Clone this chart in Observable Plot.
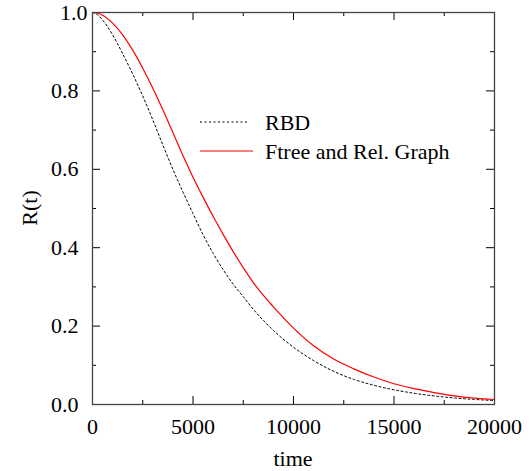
<!DOCTYPE html>
<html>
<head>
<meta charset="utf-8">
<script src="https://cdn.jsdelivr.net/npm/d3@7"></script>
<script src="https://cdn.jsdelivr.net/npm/@observablehq/plot@0.6"></script>
<style>
  html, body { margin: 0; padding: 0; background: #fff; }
  #chart svg { display: block; }
</style>
</head>
<body>
<div id="chart"></div>
<script>
// ---- data ----
const times = [0, 250, 500, 1000, 1500, 2000, 2500, 3000, 3500, 4000, 4500, 5000, 5500, 6000, 6500, 7000, 7500, 8000, 9000, 10000, 11000, 12000, 13000, 14000, 15000, 16000, 17000, 18000, 19000, 20000];
const rbd   = [1.0, 0.994, 0.981, 0.943, 0.895, 0.843, 0.787, 0.726, 0.662, 0.600, 0.542, 0.487, 0.433, 0.386, 0.344, 0.307, 0.275, 0.243, 0.189, 0.146, 0.112, 0.0846, 0.064, 0.049, 0.0375, 0.0287, 0.0218, 0.0167, 0.0129, 0.010];
const ftree = [1.0, 0.998, 0.993, 0.973, 0.943, 0.904, 0.858, 0.807, 0.752, 0.694, 0.635, 0.580, 0.529, 0.480, 0.434, 0.390, 0.349, 0.311, 0.249, 0.195, 0.150, 0.116, 0.091, 0.070, 0.053, 0.0405, 0.0305, 0.022, 0.0163, 0.0128];
const seriesNames = ["RBD", "Ftree and Rel. Graph"];
const xMajor = [0, 5000, 10000, 15000, 20000];
const xMinor = [2500, 7500, 12500, 17500];
const yMajor = [0, 0.2, 0.4, 0.6, 0.8, 1.0];
const yMinor = [0.1, 0.3, 0.5, 0.7, 0.9];
const xTitle = "time";
const yTitle = "R(t)";

// ---- table built from arrays ----
const rows = times.map((t, i) => ({t, rbd: rbd[i], ftree: ftree[i]}));

const W = 531, H = 471;
const mL = 92, mR = 37, mT = 12, mB = 67;
const fw = W - mL - mR, fh = H - mT - mB;
const fontStack = '"Liberation Serif", "Times New Roman", serif';
const fs = 22;
const major = 8, minor = 4;

const plot = Plot.plot({
  width: W, height: H,
  marginLeft: mL, marginRight: mR, marginTop: mT, marginBottom: mB,
  x: {domain: [0, 20000]},
  y: {domain: [0, 1]},
  marks: [
    // tick labels
    Plot.axisX({anchor: "bottom", ticks: xMajor, tickSize: 0, tickPadding: 14, tickFormat: d3.format("d"), label: null, fill: "#000", fontFamily: "Liberation Serif", fontVariant: "normal"}),
    Plot.axisY({anchor: "left", ticks: yMajor.filter(v => v < 1), tickSize: 0, tickPadding: 14, tickFormat: d3.format(".1f"), label: null, fill: "#000", fontFamily: "Liberation Serif", fontVariant: "normal"}),
    Plot.axisY({anchor: "left", ticks: yMajor.filter(v => v >= 1), tickSize: 0, tickPadding: 5, tickFormat: d3.format(".1f"), label: null, fill: "#000", fontFamily: "Liberation Serif", fontVariant: "normal"}),
    // inward ticks on all four sides
    Plot.ruleX(xMajor, {x: d => d, insetTop: fh - major, stroke: "#000"}),
    Plot.ruleX(xMajor, {x: d => d, insetBottom: fh - major, stroke: "#000"}),
    Plot.ruleX(xMinor, {x: d => d, insetTop: fh - minor, stroke: "#000"}),
    Plot.ruleX(xMinor, {x: d => d, insetBottom: fh - minor, stroke: "#000"}),
    Plot.ruleY(yMajor, {y: d => d, insetRight: fw - major, stroke: "#000"}),
    Plot.ruleY(yMajor, {y: d => d, insetLeft: fw - major, stroke: "#000"}),
    Plot.ruleY(yMinor, {y: d => d, insetRight: fw - minor, stroke: "#000"}),
    Plot.ruleY(yMinor, {y: d => d, insetLeft: fw - minor, stroke: "#000"}),
    // curves
    Plot.line(rows, {x: "t", y: "rbd", stroke: "#000", strokeWidth: 1, strokeDasharray: "2,2.5", curve: "monotone-x"}),
    Plot.line(rows, {x: "t", y: "ftree", stroke: "#ff0000", strokeWidth: 1.2, curve: "monotone-x"}),
    Plot.frame({stroke: "#444", strokeWidth: 1.3})
  ]
});

document.getElementById("chart").appendChild(plot);
const svg = d3.select(plot);
svg.attr("font-family", fontStack).attr("font-size", fs);

// axis titles and legend
svg.append("text").attr("x", mL + fw / 2).attr("y", 466).style("text-anchor", "middle").text(xTitle);
svg.append("text").attr("transform", `translate(37,${mT + fh / 2}) rotate(-90)`).style("text-anchor", "middle").text(yTitle);

const legend = [
  {name: seriesNames[0], stroke: "#000", dash: "2,2.5", width: 1, y: 122, x2: 249},
  {name: seriesNames[1], stroke: "#ff0000", dash: null, width: 1.2, y: 151, x2: 253}
];
legend.forEach(d => {
  svg.append("line").attr("x1", 200).attr("x2", d.x2).attr("y1", d.y).attr("y2", d.y)
    .attr("stroke", d.stroke).attr("stroke-width", d.width).attr("stroke-dasharray", d.dash);
  svg.append("text").attr("x", 265).attr("y", d.y + 7.5).style("text-anchor", "start").text(d.name);
});

function applyFont() {
  svg.selectAll("g").attr("font-family", null).attr("font-variant", null);
  svg.selectAll("text")
    .attr("font-family", fontStack)
    .style("font-family", fontStack)
    .style("font-variant", "normal")
    .style("font-size", fs + "px")
    .style("fill", "#000");
}
applyFont();
if (document.fonts && document.fonts.load) {
  document.fonts.load(`${fs}px "Liberation Serif"`).then(applyFont).catch(() => {});
}
setTimeout(applyFont, 50);
</script>
</body>
</html>
